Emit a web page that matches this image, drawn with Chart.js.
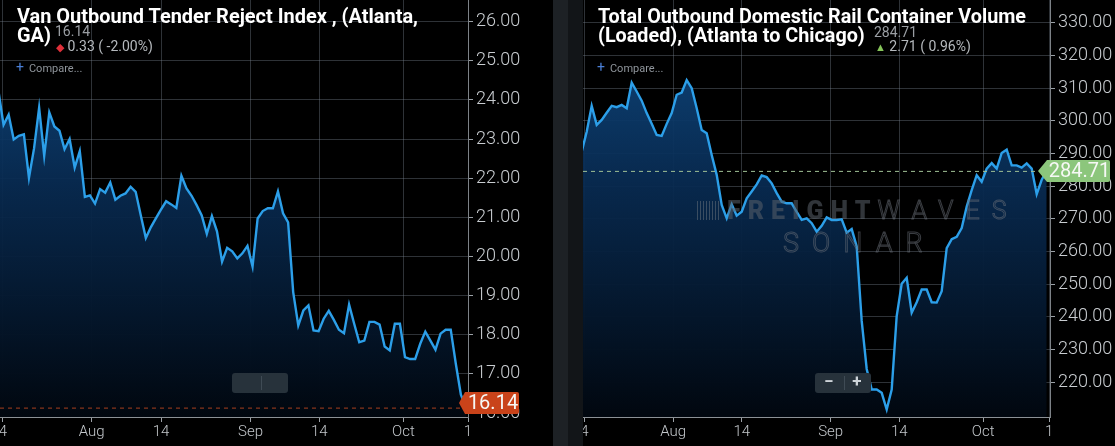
<!DOCTYPE html>
<html>
<head>
<meta charset="utf-8">
<script src="https://cdn.jsdelivr.net/npm/chart.js@4.4.1/dist/chart.umd.min.js"></script>
<style>
  html, body { margin: 0; padding: 0; background: #000; }
  body { width: 1115px; height: 446px; position: relative; overflow: hidden; font-family: Roboto, 'Noto Sans', sans-serif; }
  .panel { position: absolute; top: 0; height: 446px; }
  #leftPanel { left: 0; width: 553px; }
  #rightPanel { left: 583px; width: 532px; }
  .divider { position: absolute; top: 0; height: 446px; }
  .title { position: absolute; color: #fff; font-weight: 700; font-size: 21px; line-height: 19px; white-space: nowrap; transform-origin: left top; }
  .val { position: absolute; color: #9a9ea3; font-size: 14px; line-height: 14px; white-space: nowrap; }
  .chg { position: absolute; color: #b5b9bd; font-size: 14px; line-height: 14px; white-space: nowrap; }
  .cmp { position: absolute; color: #8f959b; font-size: 11px; line-height: 12px; white-space: nowrap; }
  .cmp b { color: #4a7fd6; font-weight: 400; font-size: 14px; margin-right: 5px; }
</style>
</head>
<body>
<div class="panel" id="leftPanel"><canvas id="leftChart" width="553" height="446"></canvas></div>
<div class="divider" style="left:553px;width:15px;background:#1d2125"></div>
<div class="divider" style="left:568px;width:15px;background:#121518"></div>
<div class="panel" id="rightPanel"><canvas id="rightChart" width="532" height="446"></canvas></div>

<div class="title" id="leftTitle" style="left:17px;top:7px">Van Outbound Tender Reject Index , (Atlanta,<br>GA)</div>
<div class="val" style="left:55px;top:24px">16.14</div>
<div class="chg" style="left:56px;top:39px"><span style="color:#e0303a;font-size:11px">&#9670;</span> 0.33 ( -2.00%)</div>
<div class="cmp" style="left:16px;top:61px"><b>+</b>Compare...</div>

<div class="title" id="rightTitle" style="left:598px;top:7px">Total Outbound Domestic Rail Container Volume<br>(Loaded), (Atlanta to Chicago)</div>
<div class="val" style="left:874px;top:25px">284.71</div>
<div class="chg" style="left:875px;top:39px"><span style="color:#86c55a;font-size:11px">&#9650;</span> 2.71 ( 0.96%)</div>
<div class="cmp" style="left:597px;top:61px"><b>+</b>Compare...</div>

<script>
// Van outbound tender reject index, Atlanta (daily)
const leftValues = [
  24.22, 23.36, 23.62, 22.99, 23.08, 23.12, 22.01, 22.76, 23.80, 22.57,
  23.68, 23.32, 23.21, 22.74, 23.00, 22.27, 22.69, 21.52, 21.56, 21.35,
  21.72, 21.63, 21.89, 21.45, 21.55, 21.61, 21.78, 21.65, 21.05, 20.47,
  20.75, 20.98, 21.20, 21.41, 21.33, 21.24, 22.06, 21.74, 21.55, 21.31,
  21.05, 20.58, 21.03, 20.64, 19.87, 20.22, 20.13, 19.95, 20.08, 20.27,
  19.74, 20.97, 21.16, 21.23, 21.23, 21.66, 21.10, 20.87, 19.09, 18.24,
  18.62, 18.75, 18.11, 18.09, 18.41, 18.61, 18.38, 18.13, 18.04, 18.77,
  18.28, 17.81, 17.85, 18.33, 18.33, 18.26, 17.70, 17.60, 18.28, 18.28,
  17.43, 17.38, 17.38, 17.77, 18.08, 17.85, 17.62, 18.03, 18.13, 18.13,
  17.26, 16.47, 16.14
];

// Outbound rail container volume (loaded), Atlanta to Chicago (daily)
const rightValues = [
  290.6, 296.7, 304.6, 298.8, 300.3, 302.5, 304.6, 304.2, 304.9, 303.9,
  311.7, 309.0, 306.2, 302.4, 299.1, 295.7, 295.4, 299.1, 302.4, 308.0,
  308.7, 312.5, 310.0, 303.9, 297.2, 296.2, 289.6, 283.5, 274.3, 270.2,
  274.5, 271.0, 272.2, 276.3, 278.4, 280.6, 283.3, 282.8, 280.9, 277.9,
  275.3, 274.8, 274.8, 272.2, 269.7, 270.2, 268.7, 266.1, 267.9, 270.5,
  269.7, 269.7, 269.9, 265.8, 266.9, 261.6, 238.8, 224.1, 217.8, 217.8,
  216.8, 211.7, 217.8, 240.3, 250.2, 252.0, 241.3, 244.5, 248.4, 248.4,
  244.5, 244.4, 247.9, 261.1, 263.8, 264.5, 267.2, 273.8, 278.8, 283.4,
  281.4, 285.4, 287.1, 285.4, 290.2, 291.2, 286.4, 286.4, 285.7, 287.0,
  285.4, 277.6, 282.0, 284.71
];

const leftYTicks = [16, 17, 18, 19, 20, 21, 22, 23, 24, 25, 26];
const rightYTicks = [220, 230, 240, 250, 260, 270, 280, 290, 300, 310, 320, 330];

// date ticks (in day index units), labels as they show (edge ones are cut)
const dateLabels = ['4', 'Aug', '14', 'Sep', '14', 'Oct', '1'];
const leftDateTicks = [0.89, 18.35, 32, 49.6, 63.15, 79.7, 92.4];
const rightDateTicks = [0.52, 18.3, 32.0, 49.8, 63.5, 80.3, 93.5];

const gridColor = 'rgba(120,132,145,0.38)';

function fitTitle(id, target) {
  const el = document.getElementById(id);
  const r = document.createRange();
  r.setStart(el.firstChild, 0);
  r.setEnd(el.firstChild, el.firstChild.length);
  const firstLineWidth = r.getBoundingClientRect().width;
  el.style.transform = 'scaleX(' + (target / firstLineWidth) + ')';
}

const lastValuePlugin = {
  id: 'lastValue',
  afterDatasetsDraw(chart, args, o) {
    const { ctx, chartArea } = chart;
    const ds = chart.data.datasets[0].data;
    const y = chart.scales.y.getPixelForValue(ds[ds.length - 1].y);
    ctx.save();
    ctx.strokeStyle = o.dashColor;
    ctx.lineWidth = 1;
    ctx.setLineDash([4, 4]);
    ctx.beginPath();
    ctx.moveTo(chartArea.left, y + 0.5);
    ctx.lineTo(chartArea.right, y + 0.5);
    ctx.stroke();
    ctx.restore();
  },
  afterDraw(chart, args, o) {
    const { ctx, chartArea } = chart;
    const ds = chart.data.datasets[0].data;
    const v = ds[ds.length - 1].y;
    let cy = chart.scales.y.getPixelForValue(v);
    cy = Math.min(cy, chartArea.bottom - 14);
    const h = 22;
    const tip = chartArea.right - o.tipBack;
    const x0 = chartArea.right - 3;
    const x1 = chartArea.right + o.tagWidth;
    ctx.save();
    ctx.fillStyle = o.tagColor;
    ctx.beginPath();
    ctx.moveTo(tip, cy);
    ctx.lineTo(x0, cy - h / 2);
    ctx.lineTo(x1 - 2, cy - h / 2);
    ctx.quadraticCurveTo(x1, cy - h / 2, x1, cy - h / 2 + 2);
    ctx.lineTo(x1, cy + h / 2 - 2);
    ctx.quadraticCurveTo(x1, cy + h / 2, x1 - 2, cy + h / 2);
    ctx.lineTo(x0, cy + h / 2);
    ctx.closePath();
    ctx.fill();
    ctx.fillStyle = '#f6f8f5';
    ctx.font = '400 20px Roboto';
    ctx.textAlign = 'center';
    ctx.textBaseline = 'middle';
    ctx.fillText(v.toFixed(2), (x0 + x1) / 2 + 1, cy + 1);
    ctx.restore();
  }
};

const zoomButtonsPlugin = {
  id: 'zoomButtons',
  afterDraw(chart, args, o) {
    const { ctx, chartArea } = chart;
    const x = chartArea.left + 232, y = 373, w = 56, h = 20;
    ctx.save();
    ctx.fillStyle = '#27323b';
    ctx.beginPath();
    ctx.roundRect(x, y, w, h, 3);
    ctx.fill();
    ctx.strokeStyle = '#3f4b55';
    ctx.beginPath();
    ctx.moveTo(x + 29.5, y + 3);
    ctx.lineTo(x + 29.5, y + h - 3);
    ctx.stroke();
    if (o.symbols) {
      ctx.fillStyle = '#cdd3d8';
      ctx.font = '700 17px Roboto';
      ctx.textAlign = 'center';
      ctx.textBaseline = 'middle';
      ctx.fillText('\u2212', x + 14, y + h / 2);
      ctx.fillText('+', x + 42, y + h / 2);
    }
    ctx.restore();
  }
};

// FreightWaves Sonar watermark, right panel only
const watermarkPlugin = {
  id: 'watermark',
  afterDatasetsDraw(chart, args, o) {
    if (!o.show) return;
    const { ctx, chartArea } = chart;
    const bx = chartArea.left + 114;
    ctx.save();
    ctx.strokeStyle = 'rgba(110,118,126,0.5)';
    ctx.lineWidth = 1;
    for (let i = 0; i < 8; i++) {
      const xx = bx + i * 3 + 0.5;
      ctx.beginPath();
      ctx.moveTo(xx, 201);
      ctx.lineTo(xx, 220);
      ctx.stroke();
    }
    ctx.textBaseline = 'alphabetic';
    ctx.letterSpacing = '7px';
    ctx.font = '900 25px Roboto';
    ctx.fillStyle = 'rgba(90,97,105,0.55)';
    ctx.fillText('FREIGHT', chartArea.left + 144, 219);
    const fw = ctx.measureText('FREIGHT').width;
    ctx.font = '300 25px Roboto';
    ctx.letterSpacing = '12px';
    ctx.strokeStyle = 'rgba(105,112,120,0.55)';
    ctx.lineWidth = 1;
    ctx.strokeText('WAVES', chartArea.left + 144 + fw, 219);
    ctx.letterSpacing = '13px';
    ctx.font = '300 27px Roboto';
    ctx.strokeText('SONAR', chartArea.left + 200, 252);
    ctx.restore();
  }
};

function makeChart(canvasId, values, yTicks, yMin, yMax, xTicks, xMin, xMax, axisWidth, extra) {
  return new Chart(document.getElementById(canvasId), {
    type: 'line',
    data: {
      datasets: [{
        data: values.map((v, i) => ({ x: i, y: v })),
        borderColor: '#2c9fe9',
        borderWidth: 2.4,
        pointRadius: 0,
        tension: 0,
        fill: 'start',
        backgroundColor: (c) => {
          const area = c.chart.chartArea;
          if (!area) return 'rgba(10,60,110,0.8)';
          const g = c.chart.ctx.createLinearGradient(0, area.top, 0, area.bottom);
          g.addColorStop(0, 'rgba(16,78,138,0.95)');
          g.addColorStop(0.45, 'rgba(8,42,80,0.95)');
          g.addColorStop(1, 'rgba(1,7,15,1)');
          return g;
        }
      }]
    },
    options: {
      responsive: false,
      animation: false,
      layout: { padding: 0 },
      plugins: {
        legend: { display: false },
        tooltip: { enabled: false },
        lastValue: extra.lastValue,
        zoomButtons: extra.zoomButtons,
        watermark: extra.watermark
      },
      scales: {
        x: {
          type: 'linear',
          min: xMin,
          max: xMax,
          z: 1,
          afterBuildTicks: (s) => { s.ticks = xTicks.map(v => ({ value: v })); },
          afterFit: (s) => { s.height = 29; s.paddingLeft = 0; s.paddingRight = 0; },
          ticks: {
            autoSkip: false,
            maxRotation: 0,
            padding: 1,
            color: '#c3c7cb',
            font: { family: 'Roboto', size: 15, weight: 300 },
            callback: (v, i) => dateLabels[i]
          },
          grid: { color: gridColor, tickColor: '#9aa0a6', tickLength: 5 },
          border: { color: '#8c9196', width: 1 }
        },
        y: {
          position: 'right',
          min: yMin,
          max: yMax,
          z: 1,
          afterBuildTicks: (s) => { s.ticks = yTicks.map(v => ({ value: v })); },
          afterFit: (s) => { s.width = axisWidth; s.paddingTop = 0; s.paddingBottom = 0; },
          ticks: {
            padding: 3,
            color: '#c9cdd1',
            font: { family: 'Roboto', size: 18, weight: 300 },
            callback: (v) => Number(v).toFixed(2)
          },
          grid: { color: gridColor, tickColor: '#9aa0a6', tickLength: 5 },
          border: { color: '#7d8287', width: 1 }
        }
      }
    },
    plugins: [lastValuePlugin, zoomButtonsPlugin, watermarkPlugin]
  });
}

makeChart('leftChart', leftValues, leftYTicks, 15.9, 26.55, leftDateTicks, 0.3, 92.4, 85, {
  lastValue: { dashColor: '#a8401f', tagColor: '#c9431a', tipBack: 9, tagWidth: 51 },
  zoomButtons: { symbols: false },
  watermark: { show: false }
});

makeChart('rightChart', rightValues, rightYTicks, 209.4, 337.0, rightDateTicks, 0.26, 93.66, 65, {
  lastValue: { dashColor: '#9fbf95', tagColor: '#8cc67c', tipBack: 12, tagWidth: 60 },
  zoomButtons: { symbols: true },
  watermark: { show: true }
});

fitTitle('leftTitle', 401);
fitTitle('rightTitle', 428);
</script>
</body>
</html>
